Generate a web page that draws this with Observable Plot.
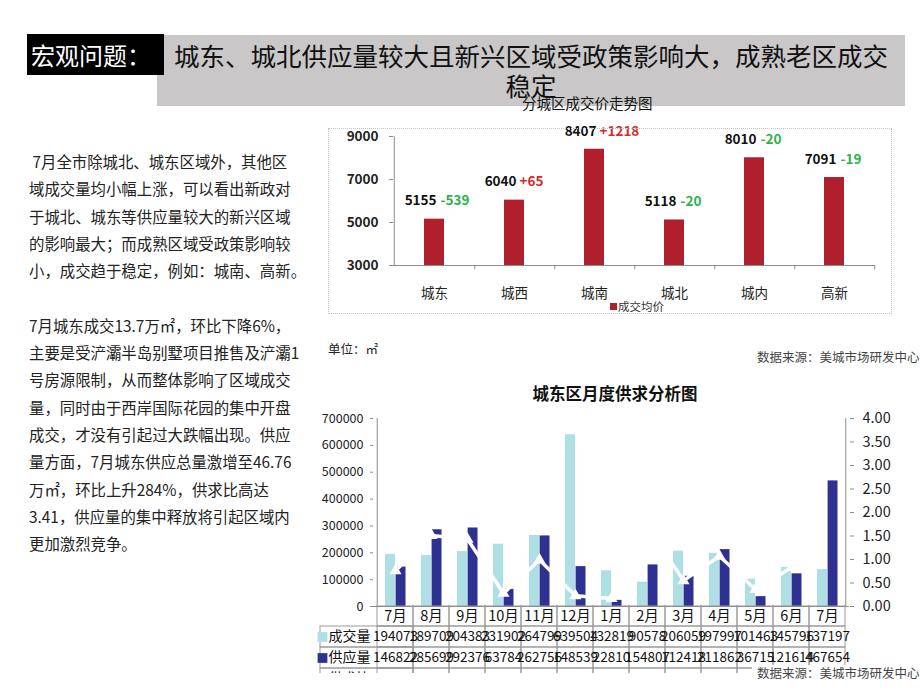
<!DOCTYPE html>
<html><head><meta charset="utf-8">
<script src="https://cdn.jsdelivr.net/npm/d3@7"></script>
<script src="https://cdn.jsdelivr.net/npm/@observablehq/plot@0.6"></script>
<style>
body{margin:0;width:920px;height:690px;position:relative;overflow:hidden;background:#fff;color:#111;font-family:"Noto Sans CJK SC",sans-serif;}
.abs{position:absolute;white-space:nowrap;}
</style></head><body>
<div class="abs" style="left:157px;top:35px;width:748px;height:71px;background:#c9c7c8;"></div>
<div class="abs" style="left:27px;top:34px;width:137px;height:41px;background:#000;"></div>
<div class="abs" style="left:31px;top:39px;font-size:24px;line-height:32px;color:#fff;">宏观问题：</div>
<div class="abs" style="left:157px;top:40px;width:748px;text-align:center;font-size:25.5px;line-height:30px;color:#111;">城东、城北供应量较大且新兴区域受政策影响大，成熟老区成交<br>稳定</div>
<div class="abs" style="left:522px;top:94px;font-size:14.5px;line-height:18px;color:#111;">分城区成交价走势图</div>

<div class="abs" style="left:29px;top:148px;font-size:15.4px;line-height:27.3px;color:#222;">&nbsp;7月全市除城北、城东区域外，其他区<br>域成交量均小幅上涨，可以看出新政对<br>于城北、城东等供应量较大的新兴区域<br>的影响最大；而成熟区域受政策影响较<br>小，成交趋于稳定，例如：城南、高新。<br><br>7月城东成交13.7万㎡，环比下降6%，<br>主要是受浐灞半岛别墅项目推售及浐灞1<br>号房源限制，从而整体影响了区域成交<br>量，同时由于西岸国际花园的集中开盘<br>成交，才没有引起过大跌幅出现。供应<br>量方面，7月城东供应总量激增至46.76<br>万㎡，环比上升284%，供求比高达<br>3.41，供应量的集中释放将引起区域内<br>更加激烈竞争。</div>

<div id="top" class="abs" style="left:329px;top:129px;width:562px;height:184px;outline:1px dotted #c4c4c4;"></div>
<div class="abs" style="left:610px;top:303px;width:7px;height:7px;background:#b01f2b;"></div>
<div class="abs" style="left:618px;top:298px;font-size:11.5px;line-height:16px;color:#333;">成交均价</div>
<div class="abs" style="left:328px;top:341px;font-size:12.5px;line-height:16px;color:#222;">单位：㎡</div>
<div class="abs" style="left:757px;top:349px;font-size:12.5px;line-height:16px;color:#444;">数据来源：美城市场研发中心</div>

<div class="abs" style="left:310px;top:382px;width:610px;text-align:center;font-size:16.5px;font-weight:bold;line-height:22px;color:#111;">城东区月度供求分析图</div>
<div id="main" class="abs" style="left:310px;top:400px;"></div>
<div id="table" class="abs" style="left:310px;top:605px;width:600px;height:68px;overflow:hidden;"></div>
<div class="abs" style="left:752px;top:665px;width:168px;height:19px;background:#fff;"></div>
<div class="abs" style="left:757px;top:665px;font-size:12.5px;line-height:16px;color:#444;">数据来源：美城市场研发中心</div>

<script>
const F = "'Noto Sans CJK SC', sans-serif";
// Top chart data
const regions = ["城东","城西","城南","城北","城内","高新"];
const avgPrice = [5155, 6040, 8407, 5118, 8010, 7091];
const priceChange = [-539, 65, 1218, -20, -20, -19];
const priceTicks = [3000, 5000, 7000, 9000];

// Bottom chart data
const monthLabels = ["7月","8月","9月","10月","11月","12月","1月","2月","3月","4月","5月","6月","7月"];
const dealArea = [194073, 189709, 204383, 231902, 264799, 639504, 132819, 90578, 206059, 197997, 101463, 145796, 137197];
const supplyArea = [146822, 285699, 292376, 63784, 262756, 148539, 22810, 154807, 112418, 211862, 36715, 121614, 467654];
const supplyDemandRatio = [0.76, 1.51, 1.43, 0.28, 0.99, 0.23, 0.17, 1.71, 0.55, 1.07, 0.36, 0.83, 3.41];
const areaTicks = [0, 100000, 200000, 300000, 400000, 500000, 600000, 700000];
const ratioTicks = [0, 0.5, 1, 1.5, 2, 2.5, 3, 3.5, 4];
const tableRowNames = ["成交量","供应量","供求比"];

const RED = "#d22b2b", GREEN = "#2bb24c", AXIS = "#8c8c8c";

const priceRows = regions.map((r, i) => ({region: r, price: avgPrice[i], change: priceChange[i]}));
const halfStep = 483 / 6 / 2;
const topPlot = Plot.plot({
  width: 562, height: 184, marginLeft: 64, marginRight: 16, marginTop: 7, marginBottom: 48,
  style: {background: "transparent", fontFamily: F, color: "#222", overflow: "visible"},
  x: {domain: regions, paddingInner: 0.75, paddingOuter: 0.375, label: null},
  y: {domain: [3000, 9000], label: null},
  marks: [
    Plot.barY(priceRows, {x: "region", y1: 3000, y2: "price", fill: "#b01f2b"}),
    Plot.ruleY([3000], {stroke: AXIS}),
    Plot.ruleX([regions[0]], {x: d => d, dx: -halfStep, y1: 3000, y2: 9000, stroke: AXIS}),
    Plot.ruleX(regions, {x: d => d, dx: halfStep, y1: 3000, y2: 2800, stroke: AXIS}),
    Plot.axisY({ticks: priceTicks, tickFormat: d => String(d), tickSize: 4, tickPadding: 11, fontSize: 13.5, fontWeight: 600, stroke: AXIS}),
    Plot.axisX({tickSize: 0, tickPadding: 23, fontSize: 13.5, label: null}),
    Plot.text(priceRows, {x: "region", y: "price", text: d => String(d.price), textAnchor: "end", dx: 2, dy: -18, fontWeight: "bold", fontSize: 13.5, fill: "#111"}),
    Plot.text(priceRows, {filter: d => d.change > 0, x: "region", y: "price", text: d => "+" + d.change, textAnchor: "start", dx: 5, dy: -18, fontWeight: "bold", fontSize: 13.5, fill: RED}),
    Plot.text(priceRows, {filter: d => d.change <= 0, x: "region", y: "price", text: d => String(d.change), textAnchor: "start", dx: 6, dy: -18, fontWeight: "bold", fontSize: 13.5, fill: GREEN})
  ]
});
document.getElementById("top").appendChild(topPlot);

const monthRows = monthLabels.map((m, i) => ({i, month: m, deal: dealArea[i], supply: supplyArea[i], ratio: supplyDemandRatio[i]}));
const K = 700000 / 4;
const bw = 476 / 13;
const CYAN = "#addfe5", BLUE = "#2e3092";
const mainPlot = Plot.plot({
  width: 600, height: 226, marginLeft: 63, marginRight: 61, marginTop: 18, marginBottom: 20,
  style: {background: "transparent", fontFamily: F, color: "#222", overflow: "visible"},
  x: {type: "band", domain: d3.range(13), padding: 0, axis: null},
  y: {domain: [0, 700000], label: null},
  marks: [
    Plot.barY(monthRows, {x: "i", y: "deal", fill: CYAN, insetLeft: 8, insetRight: 18}),
    Plot.barY(monthRows, {x: "i", y: "supply", fill: BLUE, insetLeft: 18.6, insetRight: 7.5}),
    Plot.line(monthRows, {x: "i", y: d => d.ratio * K, stroke: "white", strokeWidth: 3.5}),
    Plot.dot(monthRows, {x: "i", y: d => d.ratio * K, symbol: "triangle", fill: "white", r: 4.5}),
    Plot.ruleY([0], {stroke: AXIS}),
    Plot.ruleX([0], {x: d => d, dx: -bw / 2, y1: 0, y2: 700000, stroke: AXIS}),
    Plot.ruleX([12], {x: d => d, dx: bw / 2, y1: 0, y2: 700000, stroke: AXIS}),
    Plot.axisY({ticks: areaTicks, tickFormat: d => String(d), tickSize: 3, tickPadding: 7, fontSize: 12.5, stroke: AXIS, label: null}),
    Plot.axisY({anchor: "right", ticks: ratioTicks.map(v => v * K), tickFormat: d => (d / K).toFixed(2), tickSize: 4, tickPadding: 9, fontSize: 14.5, stroke: AXIS, label: null})
  ]
});
document.getElementById("main").appendChild(mainPlot);

const rowKeys = ["month", "deal", "supply", "ratio"];
const cells = [];
monthRows.forEach(r => {
  cells.push({i: r.i, row: "month", text: r.month});
  cells.push({i: r.i, row: "deal", text: String(r.deal)});
  cells.push({i: r.i, row: "supply", text: String(r.supply)});
  cells.push({i: r.i, row: "ratio", text: r.ratio.toFixed(2)});
});
const headers = [{row: "deal", label: tableRowNames[0]}, {row: "supply", label: tableRowNames[1]}, {row: "ratio", label: tableRowNames[2]}];
const tablePlot = Plot.plot({
  width: 600, height: 84, marginLeft: 63, marginRight: 61, marginTop: 0, marginBottom: 0,
  style: {background: "transparent", fontFamily: F, color: "#111"},
  x: {type: "band", domain: d3.range(13), padding: 0, axis: null},
  y: {type: "band", domain: rowKeys, padding: 0, axis: null},
  marks: [
    Plot.cell(headers, {x: () => 0, y: "row", insetLeft: -57, stroke: "#9a9a9a", fill: "none"}),
    Plot.cell(cells, {x: "i", y: "row", stroke: "#9a9a9a", fill: "none"}),
    Plot.text(cells, {filter: d => d.row === "month", x: "i", y: "row", text: "text", fontSize: 14.5}),
    Plot.text(cells, {filter: d => d.row !== "month", x: "i", y: "row", text: "text", fontSize: 13.5}),
    Plot.dot(headers.slice(0, 1), {y: "row", frameAnchor: "left", dx: -51, symbol: "square", r: 5.5, fill: CYAN}),
    Plot.dot(headers.slice(1, 2), {y: "row", frameAnchor: "left", dx: -51, symbol: "square", r: 5.5, fill: BLUE}),
    Plot.text(headers, {y: "row", frameAnchor: "left", dx: -45, textAnchor: "start", text: "label", fontSize: 14})
  ]
});
document.getElementById("table").appendChild(tablePlot);
</script>
</body></html>
